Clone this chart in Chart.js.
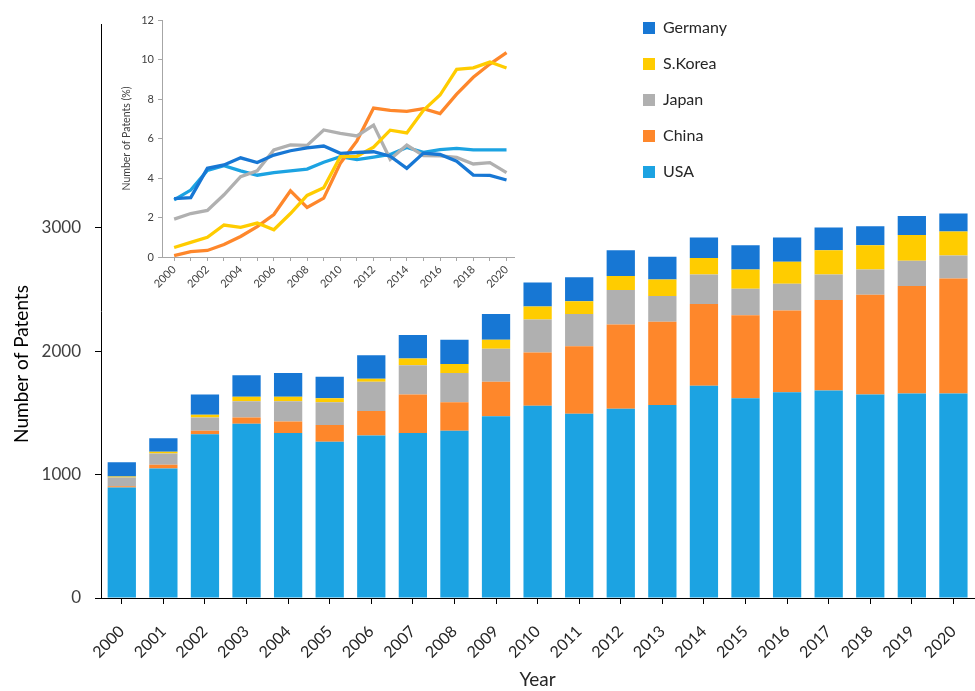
<!DOCTYPE html>
<html><head><meta charset="utf-8">
<script src="https://cdn.jsdelivr.net/npm/chart.js@4.4.1/dist/chart.umd.min.js"></script>
<style>
html,body{margin:0;padding:0;width:975px;height:691px;overflow:hidden;background:#fff;}
#main{position:absolute;left:0;top:0;}
#inset{position:absolute;left:116px;top:0;}
</style></head><body>
<canvas id="main" width="985" height="691"></canvas>
<canvas id="inset" width="650" height="310"></canvas>
<script>
const years = ['2000','2001','2002','2003','2004','2005','2006','2007','2008','2009','2010','2011','2012','2013','2014','2015','2016','2017','2018','2019','2020'];
const usa     = [895,1050,1327,1412,1338,1267,1317,1338,1356,1473,1557,1493,1533,1565,1720,1618,1667,1681,1649,1657,1657];
const china   = [10,29,29,50,92,134,198,311,230,279,433,547,684,673,663,673,663,734,808,871,932];
const japan   = [71,93,106,132,164,185,237,238,237,267,266,261,280,209,238,216,216,206,206,206,187];
const korea   = [8,13,23,37,37,32,24,53,74,74,106,103,113,134,134,156,178,198,195,208,195];
const germany = [116,110,164,174,192,174,192,192,196,208,195,195,209,185,167,195,198,184,155,154,145];

const usaPct     = [2.89,3.39,4.38,4.62,4.36,4.14,4.27,4.36,4.45,4.8,5.08,4.93,5.06,5.19,5.55,5.3,5.44,5.5,5.42,5.42,5.42];
const chinaPct   = [0.07,0.27,0.33,0.63,1.04,1.54,2.15,3.35,2.51,2.98,4.75,5.88,7.54,7.42,7.37,7.51,7.26,8.25,9.1,9.77,10.35];
const japanPct   = [1.92,2.2,2.36,3.15,4.07,4.36,5.42,5.68,5.65,6.43,6.26,6.13,6.68,4.95,5.67,5.13,5.12,5.04,4.71,4.78,4.27];
const koreaPct   = [0.48,0.74,1.0,1.62,1.5,1.72,1.38,2.2,3.12,3.51,5.08,5.1,5.56,6.42,6.28,7.43,8.2,9.5,9.58,9.87,9.57];
const germanyPct = [2.96,3.01,4.49,4.66,5.02,4.78,5.16,5.38,5.53,5.62,5.25,5.29,5.33,5.1,4.49,5.26,5.19,4.85,4.15,4.13,3.9];

const mainTicks = [0,1000,2000,3000];
const insetTicks = years.map(Number);
const yTitle = 'Number of Patents';
const xTitle = 'Year';
const insetYTitle = 'Number of Patents (%)';
const legendNames = ['Germany','S.Korea','Japan','China','USA'];

const C = {usa:'#1ca3e2', china:'#fe872b', japan:'#b0b0b0', korea:'#ffcc00', germany:'#1777d4'};

const FAMILY = 'Lato, "Open Sans", sans-serif';
Chart.defaults.font.family = FAMILY;

const yTitlePlugin = {
  id:'yTitleDraw',
  afterDraw(chart){
    const ctx = chart.ctx;
    ctx.save();
    ctx.translate(22, chart.chartArea.bottom - 234);
    ctx.rotate(-Math.PI/2);
    ctx.font = '19px ' + FAMILY;
    ctx.fillStyle = '#000';
    ctx.textAlign = 'center';
    ctx.textBaseline = 'middle';
    ctx.fillText(yTitle, 0, 0);
    ctx.restore();
  }
};

new Chart(document.getElementById('main'), {
  type:'bar',
  data:{labels:years, datasets:[
    {label:'USA', data:usa, backgroundColor:C.usa},
    {label:'China', data:china, backgroundColor:C.china},
    {label:'Japan', data:japan, backgroundColor:C.japan},
    {label:'S.Korea', data:korea, backgroundColor:C.korea},
    {label:'Germany', data:germany, backgroundColor:C.germany}
  ]},
  options:{
    responsive:false, animation:false,
    layout:{padding:{top:10,left:0,right:0,bottom:0}},
    plugins:{legend:{display:false}, tooltip:{enabled:false}},
    datasets:{bar:{categoryPercentage:1, barPercentage:0.68, borderWidth:0}},
    scales:{
      x:{stacked:true, offset:true,
        grid:{display:true, drawOnChartArea:false, drawTicks:true, tickLength:6, color:'#000', offset:false},
        border:{display:true, color:'#000', width:1},
        ticks:{color:'#262626', font:{size:16}, minRotation:45, maxRotation:45, padding:18, autoSkip:false},
        title:{display:true, text:xTitle, color:'#262626', font:{size:19}, padding:{top:0,bottom:0}},
        afterFit:s=>{s.height=93;}
      },
      y:{stacked:true, min:0, max:4650,
        afterBuildTicks:s=>{s.ticks = mainTicks.map(v=>({value:v}));},
        grid:{display:true, drawOnChartArea:false, tickLength:6, color:'#000'},
        border:{display:true, color:'#000', width:1},
        ticks:{color:'#404040', font:{size:17}, padding:14, callback:v=>String(v)},
        afterFit:s=>{s.width=101;}
      }
    }
  },
  plugins:[yTitlePlugin]
});

const LEG_FONT = 16, LEG_BOX = 12, LEG_PAD = 20;
const PLOT_RIGHT = 398, LEGEND_LEFT = 507;

// keep the legend box at a fixed place to the right of the inset plot
const legendPlace = {
  id:'legendPlace',
  afterLayout(chart){
    const l = chart.legend;
    if (!l) return;
    l.left = LEGEND_LEFT;
    l.right = chart.width;
    l.width = chart.width - LEGEND_LEFT;
  }
};

const pts = arr => years.map((y,i)=>({x:Number(y), y:arr[i]}));
const lineDs = (label, arr, color) => ({label, data:pts(arr), borderColor:color, backgroundColor:color, borderWidth:3.3, pointRadius:0, tension:0});
const pctSeries = {'Germany':[germanyPct,C.germany],'S.Korea':[koreaPct,C.korea],'Japan':[japanPct,C.japan],'China':[chinaPct,C.china],'USA':[usaPct,C.usa]};

new Chart(document.getElementById('inset'), {
  type:'line',
  data:{datasets: legendNames.map(n => lineDs(n, pctSeries[n][0], pctSeries[n][1]))},
  options:{
    responsive:false, animation:false,
    layout:{padding:0},
    plugins:{
      title:{display:true, text:'', padding:{top:10,bottom:0}, font:{size:10, lineHeight:1}},
      legend:{display:true, position:'right', align:'start',
        labels:{boxWidth:LEG_BOX, boxHeight:LEG_BOX, padding:LEG_PAD, color:'#262626', font:{size:LEG_FONT},
          generateLabels: ch => ch.data.datasets.map((d,i)=>({text:d.label, fillStyle:d.borderColor, strokeStyle:d.borderColor, lineWidth:0, hidden:false, datasetIndex:i, fontColor:'#262626'}))
        }
      },
      tooltip:{enabled:false}
    },
    scales:{
      x:{type:'linear', min:1999.27, max:2020.45,
        afterBuildTicks:s=>{s.ticks = insetTicks.map(v=>({value:v}));},
        ticks:{callback:v=> (v%2===0 ? String(v) : ''), minRotation:45, maxRotation:45, autoSkip:false, color:'#404040', font:{size:11}, padding:2},
        grid:{display:true, drawOnChartArea:false, tickLength:4, color:'#a6a6a6'},
        border:{display:true, color:'#a6a6a6'},
        afterFit:s=>{s.height=53;}
      },
      y:{min:0, max:12,
        ticks:{stepSize:2, color:'#404040', font:{size:11}, padding:4},
        grid:{display:true, drawOnChartArea:false, tickLength:4, color:'#a6a6a6'},
        border:{display:true, color:'#a6a6a6'},
        title:{display:true, text:insetYTitle, color:'#404040', font:{size:10.5}, padding:{top:4,bottom:0}},
        afterFit:s=>{s.width=46;}
      },
      spacer:{type:'linear', position:'right', display:true,
        ticks:{display:false}, grid:{display:false}, border:{display:false},
        afterFit:s=>{ const lw = s.chart.legend ? s.chart.legend.width : 120; s.width = Math.max(0, s.chart.width - lw - PLOT_RIGHT); }
      }
    }
  },
  plugins:[legendPlace]
});
</script>
</body></html>
